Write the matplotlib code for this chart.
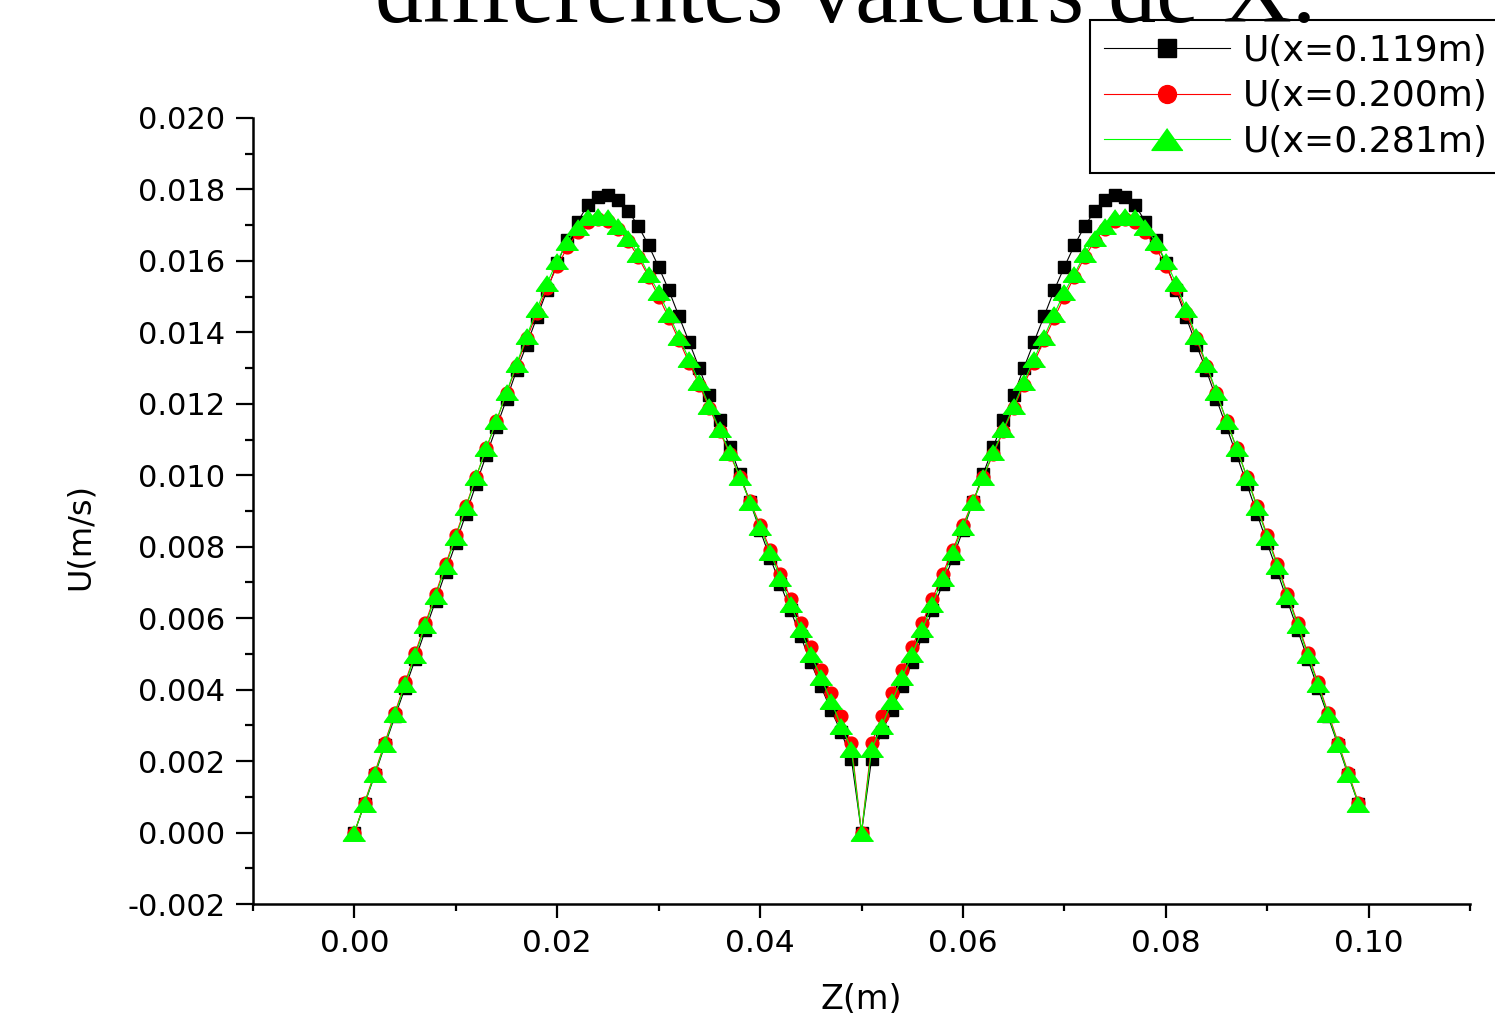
import numpy as np
import matplotlib
matplotlib.use('Agg')
import matplotlib.pyplot as plt
from matplotlib.ticker import FixedLocator, FormatStrFormatter

# z positions of the profile points (0.000 .. 0.099 m, step 1 mm)
z = np.round(np.arange(100) * 0.001, 3)

# U(m/s), split at the middle wall (z = 0.050)
u119_left = [0.0, 0.00080, 0.00160, 0.00244, 0.00325, 0.00405, 0.00485, 0.00567, 0.00648, 0.00730,
             0.00810, 0.00892, 0.00975, 0.01056, 0.01134, 0.01213, 0.01294, 0.01366, 0.01443, 0.01518,
             0.01594, 0.01658, 0.01709, 0.01756, 0.01779, 0.01784, 0.01770, 0.01740, 0.01697, 0.01644,
             0.01583, 0.01518, 0.01445, 0.01373, 0.01300, 0.01224, 0.01154, 0.01080, 0.01004, 0.00925,
             0.00846, 0.00768, 0.00695, 0.00622, 0.00549, 0.00476, 0.00409, 0.00342, 0.00281, 0.00207,
             0.0]
u119_right = [0.00207, 0.00281, 0.00342, 0.00409, 0.00476, 0.00549, 0.00622, 0.00695, 0.00768, 0.00846,
              0.00925, 0.01004, 0.01080, 0.01154, 0.01224, 0.01300, 0.01373, 0.01445, 0.01518, 0.01583,
              0.01644, 0.01697, 0.01740, 0.01770, 0.01784, 0.01779, 0.01756, 0.01709, 0.01658, 0.01594,
              0.01518, 0.01443, 0.01366, 0.01294, 0.01213, 0.01134, 0.01056, 0.00975, 0.00892, 0.00810,
              0.00730, 0.00648, 0.00567, 0.00485, 0.00405, 0.00325, 0.00244, 0.00160, 0.00080]

u200_left = [0.0, 0.00084, 0.00167, 0.00252, 0.00336, 0.00420, 0.00503, 0.00586, 0.00668, 0.00751,
             0.00833, 0.00914, 0.00996, 0.01075, 0.01152, 0.01230, 0.01307, 0.01383, 0.01455, 0.01525,
             0.01585, 0.01638, 0.01680, 0.01708, 0.01716, 0.01712, 0.01690, 0.01656, 0.01610, 0.01556,
             0.01500, 0.01440, 0.01378, 0.01315, 0.01252, 0.01188, 0.01124, 0.01060, 0.00995, 0.00928,
             0.00860, 0.00792, 0.00724, 0.00655, 0.00587, 0.00520, 0.00455, 0.00390, 0.00326, 0.00250,
             0.0]
u200_right = [0.00250, 0.00326, 0.00390, 0.00455, 0.00520, 0.00587, 0.00655, 0.00724, 0.00792, 0.00860,
              0.00928, 0.00995, 0.01060, 0.01124, 0.01188, 0.01252, 0.01315, 0.01378, 0.01440, 0.01500,
              0.01556, 0.01610, 0.01656, 0.01690, 0.01712, 0.01716, 0.01708, 0.01680, 0.01638, 0.01585,
              0.01525, 0.01455, 0.01383, 0.01307, 0.01230, 0.01152, 0.01075, 0.00996, 0.00914, 0.00833,
              0.00751, 0.00668, 0.00586, 0.00503, 0.00420, 0.00336, 0.00252, 0.00167, 0.00084]

u281_left = [0.0, 0.00081, 0.00163, 0.00248, 0.00331, 0.00415, 0.00497, 0.00580, 0.00662, 0.00745,
             0.00828, 0.00910, 0.00995, 0.01075, 0.01152, 0.01232, 0.01312, 0.01390, 0.01465, 0.01538,
             0.01600, 0.01653, 0.01695, 0.01722, 0.01726, 0.01722, 0.01697, 0.01665, 0.01619, 0.01563,
             0.01512, 0.01451, 0.01387, 0.01325, 0.01260, 0.01193, 0.01129, 0.01064, 0.00996, 0.00925,
             0.00854, 0.00784, 0.00712, 0.00640, 0.00569, 0.00499, 0.00434, 0.00367, 0.00298, 0.00234,
             0.0]
u281_right = [0.00234, 0.00298, 0.00367, 0.00434, 0.00499, 0.00569, 0.00640, 0.00712, 0.00784, 0.00854,
              0.00925, 0.00996, 0.01064, 0.01129, 0.01193, 0.01260, 0.01325, 0.01387, 0.01451, 0.01512,
              0.01563, 0.01619, 0.01665, 0.01697, 0.01722, 0.01726, 0.01722, 0.01695, 0.01653, 0.01600,
              0.01538, 0.01465, 0.01390, 0.01312, 0.01232, 0.01152, 0.01075, 0.00995, 0.00910, 0.00828,
              0.00745, 0.00662, 0.00580, 0.00497, 0.00415, 0.00331, 0.00248, 0.00163, 0.00081]

labels = ['U(x=0.119m)', 'U(x=0.200m)', 'U(x=0.281m)']
x_ticks = [0.00, 0.02, 0.04, 0.06, 0.08, 0.10]
x_minor = [-0.01, 0.01, 0.03, 0.05, 0.07, 0.09, 0.11]
y_ticks = [-0.002, 0.000, 0.002, 0.004, 0.006, 0.008, 0.010, 0.012, 0.014, 0.016, 0.018, 0.020]
y_minor = [-0.001, 0.001, 0.003, 0.005, 0.007, 0.009, 0.011, 0.013, 0.015, 0.017, 0.019]

u119 = np.array(u119_left + u119_right)
u200 = np.array(u200_left + u200_right)
u281 = np.array(u281_left + u281_right)

W, H = 1495, 1013
fig = plt.figure(figsize=(W / 100, H / 100), dpi=100)
ax = fig.add_axes([253 / W, 1 - 904 / H, 1217 / W, 786 / H])

tri = [(0, 0.7), (-1, -0.7), (1, -0.7)]
ax.plot(z, u119, color='black', lw=0.8, marker='s', ms=8.8, mec='black', mfc='black', label=labels[0])
ax.plot(z, u200, color='#ff0000', lw=0.8, marker='o', ms=9.2, mec='#ff0000', mfc='#ff0000', label=labels[1])
ax.plot(z, u281, color='#00ff00', lw=0.8, marker=tri, ms=16, mec='#00ff00', mfc='#00ff00', label=labels[2])

ax.set_xlim(-0.01, 0.11)
ax.set_ylim(-0.002, 0.020)
ax.xaxis.set_major_locator(FixedLocator(x_ticks))
ax.xaxis.set_minor_locator(FixedLocator(x_minor))
ax.yaxis.set_major_locator(FixedLocator(y_ticks))
ax.yaxis.set_minor_locator(FixedLocator(y_minor))
ax.xaxis.set_major_formatter(FormatStrFormatter('%.2f'))
ax.yaxis.set_major_formatter(FormatStrFormatter('%.3f'))

for side in ['top', 'right']:
    ax.spines[side].set_visible(False)
for side in ['left', 'bottom']:
    ax.spines[side].set_linewidth(1.8)

ax.tick_params(axis='x', which='major', direction='out', length=10, width=1.6, labelsize=22.5, pad=8)
ax.tick_params(axis='x', which='minor', direction='out', length=5, width=1.6)
ax.tick_params(axis='y', which='major', direction='out', length=12, width=1.6, labelsize=22, pad=8)
ax.tick_params(axis='y', which='minor', direction='out', length=6, width=1.6)

fig.text(80 / W, 1 - 537 / H, 'U(m/s)', rotation=90, ha='center', va='center', fontsize=23)
fig.text(861 / W, 1 - 983 / H, 'Z(m)', ha='center', va='top', fontsize=24)

leg = ax.legend(loc='upper left', bbox_to_anchor=(1090 / W, 1 - 20 / H), bbox_transform=fig.transFigure,
                fontsize=26, frameon=True, fancybox=False, edgecolor='black', framealpha=1,
                borderpad=0.38, borderaxespad=0, handlelength=3.5, handletextpad=0.35,
                labelspacing=0.32, markerscale=1.4)
leg.get_frame().set_linewidth(1.5)

fig.text(846 / W, 1 - 22 / H, 'différentes valeurs de X.', ha='center', va='baseline',
         fontsize=69, family='Liberation Serif', zorder=10)

fig.savefig('out.png', dpi=100)
